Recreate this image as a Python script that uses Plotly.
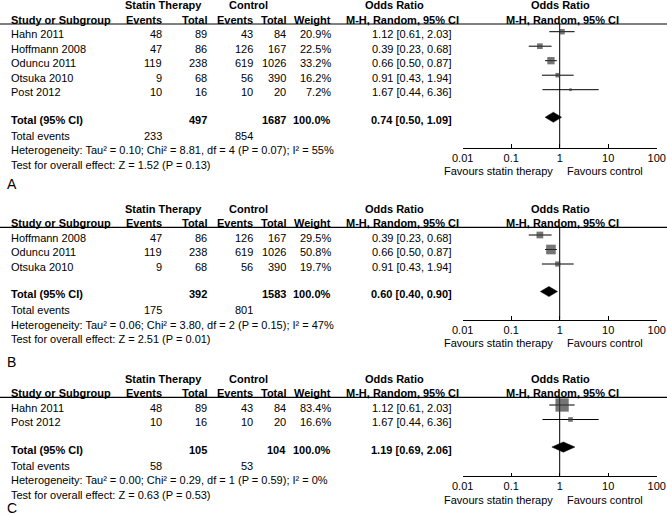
import plotly.graph_objects as go

# ---------------- DATA ----------------
# Panel A
studies_a = ["Hahn 2011", "Hoffmann 2008", "Oduncu 2011", "Otsuka 2010", "Post 2012"]
statin_events_a = [48, 47, 119, 9, 10]
statin_total_a = [89, 86, 238, 68, 16]
control_events_a = [43, 126, 619, 56, 10]
control_total_a = [84, 167, 1026, 390, 20]
weight_a = [20.9, 22.5, 33.2, 16.2, 7.2]
or_a = [1.12, 0.39, 0.66, 0.91, 1.67]
lo_a = [0.61, 0.23, 0.50, 0.43, 0.44]
hi_a = [2.03, 0.68, 0.87, 1.94, 6.36]
total_a = [497, 1687]            # statin total, control total
total_events_a = [233, 854]
pooled_a = [0.74, 0.50, 1.09]   # OR, lower, upper
het_a = "Heterogeneity: Tau² = 0.10; Chi² = 8.81, df = 4 (P = 0.07); I² = 55%"
test_a = "Test for overall effect: Z = 1.52 (P = 0.13)"

# Panel B
studies_b = ["Hoffmann 2008", "Oduncu 2011", "Otsuka 2010"]
statin_events_b = [47, 119, 9]
statin_total_b = [86, 238, 68]
control_events_b = [126, 619, 56]
control_total_b = [167, 1026, 390]
weight_b = [29.5, 50.8, 19.7]
or_b = [0.39, 0.66, 0.91]
lo_b = [0.23, 0.50, 0.43]
hi_b = [0.68, 0.87, 1.94]
total_b = [392, 1583]
total_events_b = [175, 801]
pooled_b = [0.60, 0.40, 0.90]
het_b = "Heterogeneity: Tau² = 0.06; Chi² = 3.80, df = 2 (P = 0.15); I² = 47%"
test_b = "Test for overall effect: Z = 2.51 (P = 0.01)"

# Panel C
studies_c = ["Hahn 2011", "Post 2012"]
statin_events_c = [48, 10]
statin_total_c = [89, 16]
control_events_c = [43, 10]
control_total_c = [84, 20]
weight_c = [83.4, 16.6]
or_c = [1.12, 1.67]
lo_c = [0.61, 0.44]
hi_c = [2.03, 6.36]
total_c = [105, 104]
total_events_c = [58, 53]
pooled_c = [1.19, 0.69, 2.06]
het_c = "Heterogeneity: Tau² = 0.00; Chi² = 0.29, df = 1 (P = 0.59); I² = 0%"
test_c = "Test for overall effect: Z = 0.63 (P = 0.53)"

panel_labels = ["A", "B", "C"]
tick_vals = [0.01, 0.1, 1, 10, 100]
tick_text = ["0.01", "0.1", "1", "10", "100"]
favours_left = "Favours statin therapy"
favours_right = "Favours control"

# ---------------- LAYOUT CONSTANTS ----------------
W, H = 667, 515
ROW = 14.5
FOREST_L, FOREST_R = 462.7, 656.7
FONT = "Liberation Sans, Arial, Helvetica, sans-serif"
SQ_COLOR = "#3a3a3a"
TXT_SHIFT = -2.5

# per panel: first-row pixel, axis pixel, label pixel
geom = [
    dict(p0=31.7, axis=147.7, label=184),
    dict(p0=235.0, axis=319.5, label=362),
    dict(p0=405.0, axis=476.0, label=508),
]

COL = dict(study=10, ev1=163, tot1=208, ev2=254, tot2=287, w=332, ortxt=453)

panels = [
    (studies_a, statin_events_a, statin_total_a, control_events_a, control_total_a,
     weight_a, or_a, lo_a, hi_a, total_a, total_events_a, pooled_a, het_a, test_a),
    (studies_b, statin_events_b, statin_total_b, control_events_b, control_total_b,
     weight_b, or_b, lo_b, hi_b, total_b, total_events_b, pooled_b, het_b, test_b),
    (studies_c, statin_events_c, statin_total_c, control_events_c, control_total_c,
     weight_c, or_c, lo_c, hi_c, total_c, total_events_c, pooled_c, het_c, test_c),
]

fig = go.Figure()
annotations = []
shapes = []
layout_axes = {}


def px(x):
    return x / W


def add_text(text, x, yref, y, anchor="right", bold=False, size=11, shift=TXT_SHIFT):
    annotations.append(dict(
        text=f"<b>{text}</b>" if bold else text,
        xref="paper", x=px(x), xanchor=anchor,
        yref=yref, y=y, yanchor="middle", yshift=shift, borderpad=0,
        showarrow=False, font=dict(family=FONT, size=size, color="black"),
    ))


for k, (pan, g) in enumerate(zip(panels, geom)):
    (studies, se, st, ce, ct, wt, orv, lo, hi, tot, tev, pooled, het, test) = pan
    n = len(studies)
    idx = k + 1
    xname = "x" if idx == 1 else f"x{idx}"
    yname = "y" if idx == 1 else f"y{idx}"
    rows = list(range(n))
    total_row = n + 0.9
    top_px = g["p0"] - 30
    bottom_px = min(g["p0"] + (n + 4.7) * ROW, H)
    r_axis = (g["axis"] - g["p0"]) / ROW
    r_bottom = (bottom_px - g["p0"]) / ROW
    r_top = (top_px - g["p0"]) / ROW
    axis_pos = 1 - g["axis"] / H

    # axes
    layout_axes["xaxis" if idx == 1 else f"xaxis{idx}"] = dict(
        type="log", range=[-2, 2], domain=[px(FOREST_L), px(FOREST_R)],
        anchor="free", position=axis_pos, showgrid=False, zeroline=False,
        showline=True, linecolor="black", linewidth=1, automargin=False,
        ticks="inside", ticklen=3.5, tickwidth=1, tickcolor="black",
        tickvals=tick_vals, ticktext=tick_text, ticklabeloverflow="allow",
        tickfont=dict(family=FONT, size=11, color="black"), fixedrange=True,
    )
    layout_axes[f"xaxis{idx + 3}"] = dict(
        type="log", range=[-2, 2], overlaying=xname, anchor="free", position=axis_pos,
        showgrid=False, zeroline=False, showline=False, automargin=False,
        ticks="outside", ticklen=3.5, tickwidth=1, tickcolor="black",
        tickvals=tick_vals, showticklabels=False, fixedrange=True,
    )
    layout_axes["yaxis" if idx == 1 else f"yaxis{idx}"] = dict(
        domain=[1 - bottom_px / H, 1 - top_px / H], automargin=False,
        range=[r_bottom, r_top], visible=False, showgrid=False, zeroline=False,
        fixedrange=True,
    )

    # null line at OR = 1
    fig.add_trace(go.Scatter(
        x=[1, 1], y=[-0.53, r_axis], mode="lines",
        line=dict(color="black", width=1), xaxis=xname, yaxis=yname,
        hoverinfo="skip", showlegend=False,
    ))
    # CIs
    for r, l, h in zip(rows, lo, hi):
        fig.add_trace(go.Scatter(
            x=[l, h], y=[r, r], mode="lines", line=dict(color="black", width=1),
            xaxis=xname, yaxis=yname, hoverinfo="skip", showlegend=False,
        ))
    # squares
    fig.add_trace(go.Scatter(
        x=orv, y=rows, mode="markers",
        marker=dict(symbol="square", color=SQ_COLOR,
                    size=[0.75 * w ** 0.65 for w in wt], line=dict(width=0)),
        xaxis=xname, yaxis=yname, showlegend=False, cliponaxis=False,
    ))
    # diamond
    est, plo, phi = pooled
    hh = 0.35
    fig.add_trace(go.Scatter(
        x=[plo, est, phi, est, plo],
        y=[total_row, total_row - hh, total_row, total_row + hh, total_row],
        mode="lines", fill="toself", fillcolor="black",
        line=dict(color="black", width=0.5),
        xaxis=xname, yaxis=yname, showlegend=False, hoverinfo="skip",
    ))

    # header rule
    shapes.append(dict(type="line", xref="paper", x0=0, x1=1, yref=yname,
                       y0=-0.53, y1=-0.53, line=dict(color="black", width=1.2)))

    # headers
    add_text("Statin Therapy", 163, yname, -2, anchor="center", bold=True)
    add_text("Control", 248, yname, -2, anchor="center", bold=True)
    add_text("Odds Ratio", 394, yname, -2, anchor="center", bold=True)
    add_text("Odds Ratio", 560.7, yname, -2, anchor="center", bold=True)
    add_text("Study or Subgroup", COL["study"], yname, -1, anchor="left", bold=True)
    add_text("Events", COL["ev1"], yname, -1, bold=True)
    add_text("Total", COL["tot1"], yname, -1, bold=True)
    add_text("Events", COL["ev2"], yname, -1, bold=True)
    add_text("Total", COL["tot2"], yname, -1, bold=True)
    add_text("Weight", COL["w"], yname, -1, bold=True)
    add_text("M-H, Random, 95% CI", 402.5, yname, -1, anchor="center", bold=True)
    add_text("M-H, Random, 95% CI", 562, yname, -1, anchor="center", bold=True)

    # study rows
    for r, s, a, b, c, d, w, o, l, h in zip(rows, studies, se, st, ce, ct, wt, orv, lo, hi):
        add_text(s, COL["study"], yname, r, anchor="left")
        add_text(str(a), COL["ev1"], yname, r)
        add_text(str(b), COL["tot1"], yname, r)
        add_text(str(c), COL["ev2"], yname, r)
        add_text(str(d), COL["tot2"], yname, r)
        add_text(f"{w:.1f}%", COL["w"], yname, r)
        add_text(f"{o:.2f} [{l:.2f}, {h:.2f}]", COL["ortxt"], yname, r)

    # totals
    add_text("Total (95% CI)", COL["study"], yname, total_row, anchor="left", bold=True)
    add_text(str(tot[0]), COL["tot1"], yname, total_row, bold=True)
    add_text(str(tot[1]), COL["tot2"], yname, total_row, bold=True)
    add_text(f"{sum(wt):.1f}%", COL["w"], yname, total_row, bold=True)
    add_text(f"{est:.2f} [{plo:.2f}, {phi:.2f}]", COL["ortxt"], yname, total_row, bold=True)
    add_text("Total events", COL["study"], yname, n + 2, anchor="left")
    add_text(str(tev[0]), COL["ev1"], yname, n + 2)
    add_text(str(tev[1]), COL["ev2"], yname, n + 2)
    add_text(het, COL["study"], yname, n + 3, anchor="left")
    add_text(test, COL["study"], yname, n + 4, anchor="left")

    # favours labels
    for txt, anc, xs in [(favours_left, "right", -5), (favours_right, "left", 5)]:
        annotations.append(dict(
            text=txt, xref=xname, x=0, xanchor=anc, xshift=xs,
            yref="paper", y=1 - (g["axis"] + 23.5) / H, yanchor="middle",
            showarrow=False, font=dict(family=FONT, size=11, color="black"),
        ))

    # panel label
    annotations.append(dict(
        text=panel_labels[k], xref="paper", x=px(6), xanchor="left",
        yref="paper", y=1 - g["label"] / H, yanchor="middle", borderpad=0,
        showarrow=False, font=dict(family=FONT, size=14, color="black"),
    ))

fig.update_layout(
    width=W, height=H,
    margin=dict(l=0, r=0, t=0, b=0, pad=0, autoexpand=False),
    paper_bgcolor="white", plot_bgcolor="white",
    showlegend=False, hovermode=False,
    annotations=annotations, shapes=shapes,
    font=dict(family=FONT, size=11, color="black"),
    **layout_axes,
)

fig.write_html(
    "out.html",
    config={"displayModeBar": False, "staticPlot": True},
    post_script="document.body.style.margin='0';document.body.style.overflow='hidden';",
)
